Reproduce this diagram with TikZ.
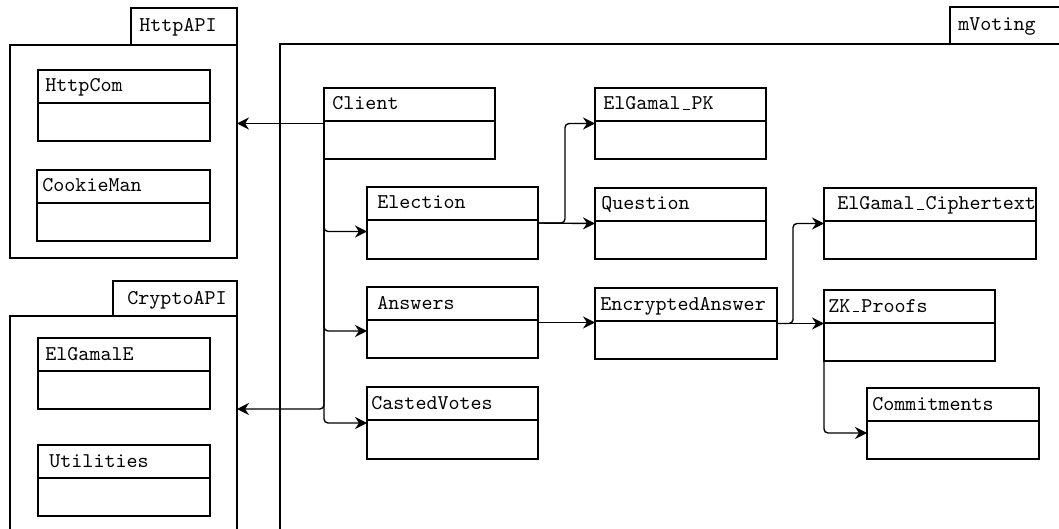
\documentclass[tikz,border=0pt]{standalone}
\usetikzlibrary{arrows.meta,calc}

% Low rule underscore, kept at the width of one typewriter character
\newcommand\lowbar{\kern0.1em\vbox{\hrule width 0.33em height 0.55pt}\kern0.095em}

% One UML class: name, x1, y1, x2, y2 (px), label inset (px), label
\newcommand\umlclass[7]{%
  \node[clsbox, minimum width={(#4-#2)*0.5pt}, minimum height={(#5-#3)*0.5pt}] (#1) at (#2,#3) {};
  \draw[clsline] ([yshift=-16.5pt]#1.north west) -- ([yshift=-16.5pt]#1.north east);
  \node[clslabel] (#1-name) at ([xshift={#6*0.5pt}, yshift=-11pt]#1.north west) {#7};
}

% One UML package: name, body x1, y1, x2, y2, tab x1, tab y1, label x, label
\newcommand\umlpackage[9]{%
  \node[pkgbox, minimum width={(#4-#2)*0.5pt}, minimum height={(#5-#3)*0.5pt}] (#1) at (#2,#3) {};
  \node[pkgbox, minimum width={(#4-#6)*0.5pt}, minimum height={(#3-#7)*0.5pt}] (#1-tab) at (#6,#7) {};
  \node[clslabel] (#1-name) at ([xshift={(#8-#6)*0.5pt}, yshift=-11.6pt]#1-tab.north west) {#9};
}

\begin{document}
\begin{tikzpicture}[x=0.5pt, y=-0.5pt,
  clsbox/.style={draw, line width=0.65pt, rectangle, inner sep=0pt, outer sep=0pt, anchor=north west},
  clsline/.style={line width=0.65pt},
  clslabel/.style={anchor=base west, inner sep=0pt, font=\ttfamily\fontsize{10.5}{12}\selectfont},
  pkgbox/.style={draw, line width=1.3pt, rectangle, inner sep=0pt, outer sep=0pt, anchor=north west},
  conn/.style={line width=0.7pt, rounded corners=2pt, -{Stealth[length=6pt, width=6pt]}},
]
\useasboundingbox (0,0) rectangle (1059,529);
\clip (0,0) rectangle (1059,529);

% packages
\umlpackage{httpapi}{10}{45}{237}{258}{131}{8}{139}{HttpAPI}
\umlpackage{cryptoapi}{10}{316}{237}{560}{113}{281}{127}{CryptoAPI}
\umlpackage{mvoting}{280}{44}{1085}{560}{950}{7}{958}{mVoting}

% classes of HttpAPI
\umlclass{httpcom}{38}{70}{210}{141}{7}{HttpCom}
\umlclass{cookieman}{37}{170}{210}{241}{5}{CookieMan}

% classes of CryptoAPI
\umlclass{elgamale}{38}{338}{210}{409}{7}{ElGamalE}
\umlclass{utilities}{38}{445}{210}{516}{11}{Utilities}

% classes of mVoting
\umlclass{client}{324}{88}{495}{159}{8}{Client}
\umlclass{election}{367}{187}{538}{259}{10}{Election}
\umlclass{answers}{367}{287}{538}{358}{10}{Answers}
\umlclass{castedvotes}{367}{387}{538}{459}{4}{CastedVotes}
\umlclass{elgamalpk}{595}{88}{766}{159}{8}{ElGamal\lowbar PK}
\umlclass{question}{595}{188}{766}{259}{6}{Question}
\umlclass{encanswer}{595}{288}{777}{359}{5}{EncryptedAnswer}
\umlclass{ciphertext}{824}{188}{1036}{259}{13}{ElGamal\lowbar Ciphertext}
\umlclass{zkproofs}{824}{290}{995}{361}{4}{ZK\lowbar Proofs}
\umlclass{commitments}{867}{388}{1039}{459}{5}{Commitments}

% dependencies
\draw[conn] (client.west) -- (client.west -| httpapi.east);
\draw[conn] (client.south west) |- ([yshift=-46.5pt]cryptoapi.north east);
\draw[conn] (client.south west) |- ([yshift=-4.25pt]election.west);
\draw[conn] (client.south west) |- ([yshift=-4.25pt]answers.west);
\draw[conn] (client.south west) |- (castedvotes.west);

\draw[conn] (election.east) -- ++(27,0) |- (elgamalpk.west);
\draw[conn] (election.east) -- (question.west);
\draw[conn] (answers.east) -- (answers.east -| encanswer.west);
\draw[conn] (encanswer.east) -- ++(16,0) |- (ciphertext.west);
\draw[conn] (encanswer.east) -- (encanswer.east -| zkproofs.west);
\draw[conn] (zkproofs.south west) |- ([yshift=-4.75pt]commitments.west);
\end{tikzpicture}
\end{document}
